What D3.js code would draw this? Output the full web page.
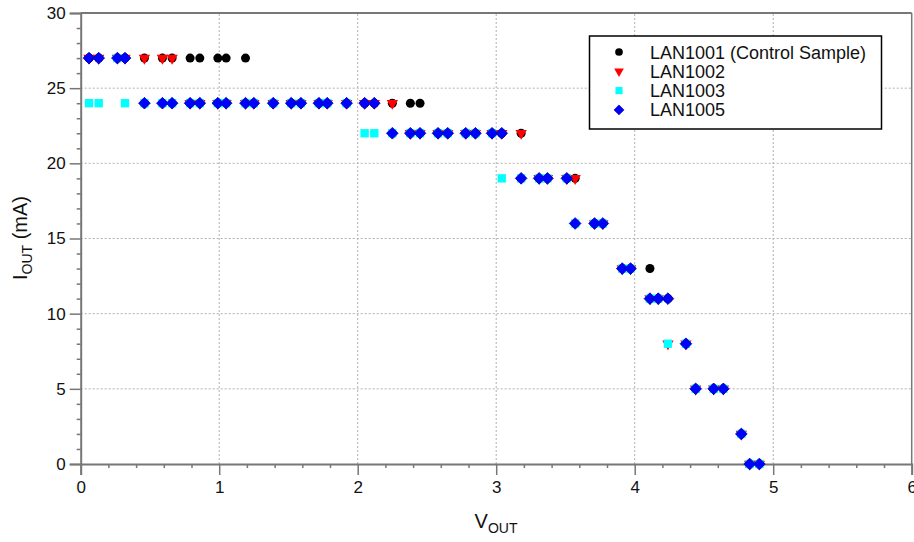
<!DOCTYPE html>
<html><head><meta charset="utf-8">
<script src="https://cdn.jsdelivr.net/npm/d3@7"></script>
<style>body{margin:0;background:#fff}svg{display:block}text{font-family:"Liberation Sans",Arial,sans-serif}</style>
</head><body><svg id="c" width="914" height="542"></svg>
<script>
const vout = [0.06,0.13,0.265,0.32,0.46,0.59,0.66,0.79,0.86,0.99,1.05,1.19,1.25,1.39,1.52,1.59,1.72,1.78,1.92,2.05,2.12,2.25,2.38,2.45,2.58,2.65,2.78,2.85,2.97,3.04,3.18,3.31,3.37,3.51,3.57,3.71,3.77,3.91,3.97,4.11,4.17,4.24,4.37,4.44,4.57,4.64,4.77,4.83,4.90];
const lan1001 = [27,27,27,27,27,27,27,27,27,27,27,27,24,24,24,24,24,24,24,24,24,24,24,24,22,22,22,22,22,22,22,19,19,19,19,16,16,13,13,13,11,11,8,5,5,5,2,0,0];
const lan1002 = [27,27,27,27,27,27,27,24,24,24,24,24,24,24,24,24,24,24,24,24,24,24,22,22,22,22,22,22,22,22,22,19,19,19,19,16,16,13,13,11,11,8,8,5,5,5,2,0,0];
const lan1003 = [24,24,27,24,24,24,24,24,24,24,24,24,24,24,24,24,24,24,24,22,22,22,22,22,22,22,22,22,22,19,19,19,19,19,16,16,16,13,13,11,11,8,8,5,5,5,2,0,0];
const lan1005 = [27,27,27,27,24,24,24,24,24,24,24,24,24,24,24,24,24,24,24,24,24,22,22,22,22,22,22,22,22,22,19,19,19,19,16,16,16,13,13,11,11,11,8,5,5,5,2,0,0];
const seriesNames = ["LAN1001 (Control Sample)","LAN1002","LAN1003","LAN1005"];
const xTicks = [0,1,2,3,4,5,6];
const yTicks = [0,5,10,15,20,25,30];

const svg = d3.select("#c");
const x = d3.scaleLinear().domain([0,6]).range([80.7,911.7]);
const y = d3.scaleLinear().domain([0,30]).range([464,13]);
const axisCol = "#777";

// grid
svg.append("g").selectAll("line").data(xTicks.slice(1,-1)).join("line")
  .attr("x1",d=>x(d)).attr("x2",d=>x(d)).attr("y1",y(0)).attr("y2",y(30))
  .attr("stroke","#b0b0b0").attr("stroke-dasharray","2,2").attr("stroke-width",1);
svg.append("g").selectAll("line").data(yTicks.slice(1,-1)).join("line")
  .attr("y1",d=>y(d)).attr("y2",d=>y(d)).attr("x1",x(0)).attr("x2",x(6))
  .attr("stroke","#b0b0b0").attr("stroke-dasharray","2,2").attr("stroke-width",1);

// frame top/right
svg.append("line").attr("x1",x(0)).attr("x2",x(6)).attr("y1",y(30)).attr("y2",y(30)).attr("stroke",axisCol).attr("stroke-width",2);
svg.append("line").attr("x1",x(6)).attr("x2",x(6)).attr("y1",y(30)).attr("y2",y(0)).attr("stroke",axisCol).attr("stroke-width",1.5);

// axes
const xAxis = d3.axisBottom(x).tickValues(xTicks).tickFormat(d3.format("d")).tickSize(11).tickPadding(6);
const xMinor = d3.axisBottom(x).tickValues(d3.range(0,6.01,0.2).filter(v=>Math.abs(v-Math.round(v))>0.01)).tickFormat("").tickSize(4);
const yAxis = d3.axisLeft(y).tickValues(yTicks).tickFormat(d3.format("d")).tickSize(11).tickPadding(4);
const yMinor = d3.axisLeft(y).tickValues(d3.range(0,30.1,1).filter(v=>v%5!==0)).tickFormat("").tickSize(4);

function style(g){
  g.select(".domain").attr("stroke",axisCol).attr("stroke-width",2);
  g.selectAll(".tick line").attr("stroke",axisCol).attr("stroke-width",1.5);
  g.selectAll(".tick text").attr("fill","#111").style("font-size","17px");
}
svg.append("g").attr("transform",`translate(0,${y(0)})`).call(xMinor).call(style).select(".domain").remove();
svg.append("g").attr("transform",`translate(${x(0)},0)`).call(yMinor).call(style).select(".domain").remove();
svg.append("g").attr("transform",`translate(0,${y(0)})`).call(xAxis).call(style);
svg.append("g").attr("transform",`translate(${x(0)},0)`).call(yAxis).call(style);

// axis labels
const yl = svg.append("text").attr("transform","translate(27,238) rotate(-90)").attr("text-anchor","middle").style("font-size","20px").attr("fill","#111");
yl.append("tspan").text("I");
yl.append("tspan").text("OUT").style("font-size","14px").attr("dy",5);
yl.append("tspan").text(" (mA)").attr("dy",-5);
const xl = svg.append("text").attr("x",496).attr("y",528).attr("text-anchor","middle").style("font-size","20px").attr("fill","#111");
xl.append("tspan").text("V");
xl.append("tspan").text("OUT").style("font-size","14px").attr("dy",5);

// markers
const sym = {
  circle: d3.symbol().type(d3.symbolCircle).size(64),
  tri: d3.symbol().type(d3.symbolTriangle).size(56),
  square: d3.symbol().type(d3.symbolSquare).size(70),
  diamond: d3.symbol().type(d3.symbolSquare).size(68)
};
const defs = [
  {vals:lan1001, path:sym.circle(), fill:"#000", stroke:"none", rot:0},
  {vals:lan1002, path:sym.tri(), fill:"#ff0000", stroke:"none", rot:180},
  {vals:lan1003, path:sym.square(), fill:"#00ffff", stroke:"none", rot:0},
  {vals:lan1005, path:sym.diamond(), fill:"#0000ff", stroke:"#0000b0", rot:45}
];
defs.forEach(s=>{
  svg.append("g").selectAll("path").data(vout.map((v,i)=>[v,s.vals[i]])).join("path")
    .attr("d",s.path).attr("transform",d=>`translate(${x(d[0])},${y(d[1])}) rotate(${s.rot})`)
    .attr("fill",s.fill).attr("stroke",s.stroke).attr("stroke-width",0.8);
});

// legend
const lg = svg.append("g");
lg.append("rect").attr("x",589.5).attr("y",36).attr("width",292).attr("height",93).attr("fill","#fff").attr("stroke","#000").attr("stroke-width",1.5);
seriesNames.forEach((n,i)=>{
  const cy = 52 + i*19.3;
  const s = defs[i];
  lg.append("path").attr("d",s.path).attr("transform",`translate(619,${cy}) rotate(${s.rot}) scale(0.85)`).attr("fill",s.fill).attr("stroke",s.stroke).attr("stroke-width",0.8);
  lg.append("text").attr("x",650).attr("y",cy+6.5).style("font-size","18px").attr("fill","#111").text(n);
});
</script></body></html>
